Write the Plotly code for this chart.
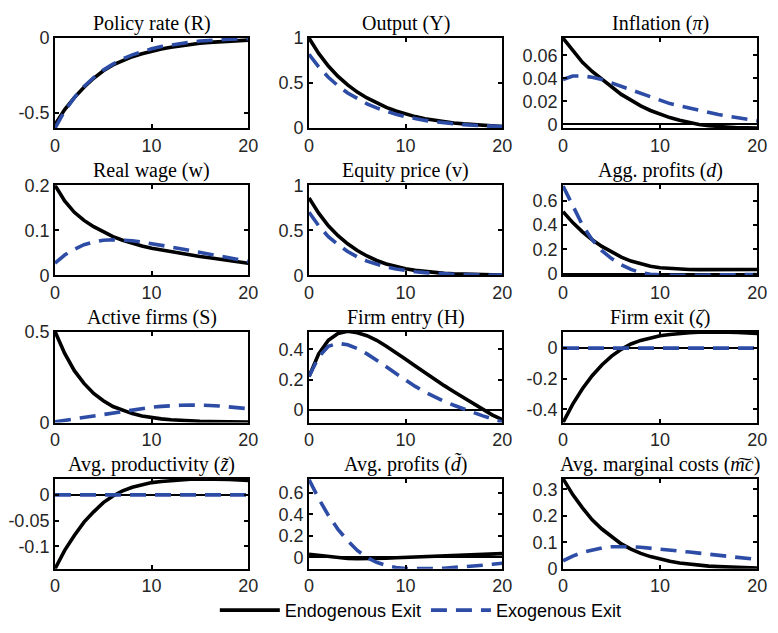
import plotly.graph_objects as go

periods = list(range(21))

titles = [
    "Policy rate (R)", "Output (Y)", "Inflation (<i>π</i>)",
    "Real wage (w)", "Equity price (v)", "Agg. profits (<i>d</i>)",
    "Active firms (S)", "Firm entry (H)", "Firm exit (<i>ζ</i>)",
    "Avg. productivity (<i>z̃</i>)", "Avg. profits (<i>d̃</i>)", "Avg. marginal costs (<i>m͠c</i>)",
]

# Endogenous exit (black solid)
endo_R = [-0.58, -0.48, -0.40, -0.33, -0.27, -0.22, -0.18, -0.15, -0.125, -0.105, -0.088,
          -0.073, -0.061, -0.051, -0.042, -0.035, -0.029, -0.024, -0.02, -0.017, -0.014]
endo_Y = [1.0, 0.83, 0.69, 0.575, 0.48, 0.40, 0.335, 0.28, 0.23, 0.19, 0.155,
          0.128, 0.105, 0.087, 0.071, 0.058, 0.047, 0.038, 0.03, 0.024, 0.018]
endo_pi = [0.075, 0.064, 0.054, 0.046, 0.039, 0.032, 0.026, 0.021, 0.016, 0.012, 0.0085,
           0.0058, 0.0035, 0.0015, -0.0002, -0.0013, -0.0021, -0.0027, -0.003, -0.0032, -0.0033]
endo_w = [0.20, 0.165, 0.14, 0.122, 0.108, 0.096, 0.086, 0.078, 0.071, 0.065, 0.06,
          0.056, 0.052, 0.048, 0.045, 0.042, 0.039, 0.036, 0.033, 0.03, 0.027]
endo_v = [0.86, 0.69, 0.55, 0.44, 0.35, 0.275, 0.215, 0.165, 0.127, 0.097, 0.073,
          0.055, 0.041, 0.03, 0.022, 0.016, 0.012, 0.009, 0.006, 0.004, 0.003]
endo_d = [0.51, 0.42, 0.345, 0.28, 0.225, 0.178, 0.138, 0.105, 0.08, 0.062, 0.05,
          0.043, 0.039, 0.036, 0.035, 0.035, 0.035, 0.035, 0.036, 0.036, 0.036]
endo_S = [0.50, 0.38, 0.285, 0.215, 0.16, 0.12, 0.088, 0.066, 0.049, 0.036, 0.027,
          0.02, 0.015, 0.011, 0.009, 0.007, 0.006, 0.005, 0.004, 0.004, 0.003]
endo_H = [0.22, 0.37, 0.46, 0.505, 0.52, 0.51, 0.49, 0.46, 0.42, 0.38, 0.335,
          0.29, 0.245, 0.2, 0.16, 0.12, 0.08, 0.04, 0.005, -0.035, -0.065]
endo_zeta = [-0.485, -0.365, -0.265, -0.18, -0.11, -0.052, -0.008, 0.027, 0.05, 0.068, 0.08,
             0.089, 0.096, 0.1, 0.103, 0.105, 0.105, 0.104, 0.102, 0.099, 0.096]
endo_z = [-0.144, -0.108, -0.079, -0.053, -0.033, -0.015, -0.002, 0.008, 0.015, 0.02, 0.024,
          0.026, 0.028, 0.0295, 0.0305, 0.031, 0.031, 0.031, 0.03, 0.029, 0.028]
endo_dt = [0.03, 0.018, 0.006, -0.004, -0.01, -0.012, -0.012, -0.01, -0.007, -0.003, 0.0,
           0.004, 0.008, 0.012, 0.016, 0.02, 0.024, 0.027, 0.03, 0.033, 0.035]
endo_mc = [0.34, 0.28, 0.23, 0.185, 0.15, 0.12, 0.094, 0.074, 0.058, 0.046, 0.036,
           0.028, 0.022, 0.017, 0.013, 0.01, 0.008, 0.006, 0.005, 0.004, 0.003]

# Exogenous exit (blue dashed)
exo_R = [-0.605, -0.49, -0.40, -0.325, -0.265, -0.215, -0.175, -0.14, -0.113, -0.09, -0.072,
         -0.057, -0.045, -0.035, -0.027, -0.02, -0.015, -0.011, -0.008, -0.006, -0.004]
exo_Y = [0.82, 0.68, 0.565, 0.47, 0.39, 0.325, 0.27, 0.225, 0.185, 0.153, 0.126,
         0.104, 0.086, 0.071, 0.058, 0.048, 0.039, 0.032, 0.026, 0.021, 0.017]
exo_pi = [0.039, 0.042, 0.042, 0.041, 0.039, 0.036, 0.033, 0.030, 0.027, 0.024, 0.021,
          0.018, 0.016, 0.014, 0.012, 0.010, 0.0085, 0.007, 0.0055, 0.004, 0.003]
exo_w = [0.027, 0.045, 0.058, 0.068, 0.074, 0.078, 0.079, 0.079, 0.077, 0.074, 0.071,
         0.067, 0.063, 0.059, 0.055, 0.051, 0.047, 0.043, 0.039, 0.035, 0.031]
exo_v = [0.70, 0.55, 0.43, 0.34, 0.265, 0.205, 0.158, 0.12, 0.092, 0.07, 0.053,
         0.04, 0.03, 0.022, 0.016, 0.012, 0.009, 0.006, 0.004, 0.003, 0.002]
exo_d = [0.72, 0.56, 0.40, 0.28, 0.19, 0.125, 0.075, 0.037, 0.01, -0.004, -0.01,
         -0.012, -0.012, -0.012, -0.011, -0.01, -0.009, -0.008, -0.007, -0.006, -0.005]
exo_S = [0.004, 0.012, 0.021, 0.03, 0.039, 0.048, 0.056, 0.064, 0.071, 0.078, 0.084,
         0.089, 0.093, 0.095, 0.096, 0.096, 0.094, 0.091, 0.087, 0.082, 0.076]
exo_H = [0.22, 0.35, 0.42, 0.44, 0.43, 0.405, 0.37, 0.33, 0.285, 0.24, 0.195,
         0.155, 0.118, 0.085, 0.055, 0.03, 0.005, -0.018, -0.04, -0.06, -0.08]
exo_zeta = [0.0] * 21
exo_z = [0.0] * 21
exo_dt = [0.72, 0.545, 0.39, 0.26, 0.155, 0.065, 0.0, -0.045, -0.075, -0.093, -0.102,
          -0.105, -0.105, -0.103, -0.1, -0.095, -0.088, -0.08, -0.072, -0.063, -0.054]
exo_mc = [0.03, 0.048, 0.062, 0.072, 0.079, 0.083, 0.084, 0.083, 0.081, 0.078, 0.075,
          0.071, 0.067, 0.063, 0.059, 0.055, 0.051, 0.047, 0.043, 0.039, 0.035]

endo = [endo_R, endo_Y, endo_pi, endo_w, endo_v, endo_d,
        endo_S, endo_H, endo_zeta, endo_z, endo_dt, endo_mc]
exo = [exo_R, exo_Y, exo_pi, exo_w, exo_v, exo_d,
       exo_S, exo_H, exo_zeta, exo_z, exo_dt, exo_mc]

y_ranges = [[-0.605, 0], [0, 1], [-0.0034, 0.0751], [0, 0.2], [0, 1], [-0.012, 0.726],
            [0, 0.5], [-0.084, 0.518], [-0.485, 0.108], [-0.144, 0.0316], [-0.105, 0.729], [0, 0.34]]
y_ticks = [[-0.5, 0], [0, 0.5, 1], [0, 0.02, 0.04, 0.06], [0, 0.1, 0.2], [0, 0.5, 1],
           [0, 0.2, 0.4, 0.6], [0, 0.5], [0, 0.2, 0.4], [-0.4, -0.2, 0], [-0.1, -0.05, 0],
           [0, 0.2, 0.4, 0.6], [0, 0.1, 0.2, 0.3]]
y_ticktext = [["-0.5", "0"], ["0", "0.5", "1"], ["0", "0.02", "0.04", "0.06"], ["0", "0.1", "0.2"],
              ["0", "0.5", "1"], ["0", "0.2", "0.4", "0.6"], ["0", "0.5"], ["0", "0.2", "0.4"],
              ["-0.4", "-0.2", "0"], ["-0.1", "-0.05", "0"], ["0", "0.2", "0.4", "0.6"],
              ["0", "0.1", "0.2", "0.3"]]
x_ticks = [0, 10, 20]

W, H = 778, 633
col_px = [(51, 248), (310, 507), (569, 767)]
row_px = [(29, 122), (181, 274), (332, 426), (484, 577)]

BLUE = "#2D4CA5"
fig = go.Figure()
annotations = []
for i in range(12):
    r, c = divmod(i, 3)
    n = i + 1
    xa = "x" if n == 1 else f"x{n}"
    ya = "y" if n == 1 else f"y{n}"
    fig.add_trace(go.Scatter(x=periods, y=endo[i], mode="lines", xaxis=xa, yaxis=ya,
                             line=dict(color="black", width=3.6),
                             name="Endogenous Exit", legendgroup="endo", showlegend=(i == 0)))
    fig.add_trace(go.Scatter(x=periods, y=exo[i], mode="lines", xaxis=xa, yaxis=ya,
                             line=dict(color=BLUE, width=3.6, dash="16px,9px"),
                             name="Exogenous Exit", legendgroup="exo", showlegend=(i == 0)))
    x0, x1 = col_px[c]
    t0, t1 = row_px[r]
    xdom = [x0 / W, x1 / W]
    ydom = [1 - t1 / H, 1 - t0 / H]
    axis_common = dict(showline=True, mirror="ticks", linecolor="black", linewidth=2,
                       ticks="inside", ticklen=4, tickwidth=1.5, tickcolor="black",
                       showgrid=False, tickfont=dict(family="Liberation Sans, Arial", size=18, color="#262626"))
    fig.update_layout(**{
        ("xaxis" if n == 1 else f"xaxis{n}"): dict(domain=xdom, range=[0, 20], tickvals=x_ticks,
                                                   ticktext=["0", "10", "20"], zeroline=False,
                                                   anchor=ya, **axis_common),
        ("yaxis" if n == 1 else f"yaxis{n}"): dict(domain=ydom, range=y_ranges[i], tickvals=y_ticks[i],
                                                   ticktext=y_ticktext[i], zeroline=True,
                                                   zerolinecolor="black", zerolinewidth=1.5,
                                                   anchor=xa, **axis_common),
    })
    annotations.append(dict(text=titles[i], x=(xdom[0] + xdom[1]) / 2, y=ydom[1], xref="paper", yref="paper",
                            xanchor="center", yanchor="bottom", yshift=1, showarrow=False,
                            font=dict(family="Liberation Serif, Times New Roman", size=20, color="black")))

fig.update_layout(
    width=W, height=H, margin=dict(l=0, r=0, t=0, b=0),
    paper_bgcolor="white", plot_bgcolor="white",
    annotations=annotations,
    showlegend=True,
    legend=dict(orientation="h", x=0.545, y=1 - 620 / H, xanchor="center", yanchor="middle",
                font=dict(family="Liberation Sans, Arial", size=18, color="black"),
                bgcolor="rgba(0,0,0,0)", itemwidth=60, tracegroupgap=0),
)

fig.write_html("out.html")
